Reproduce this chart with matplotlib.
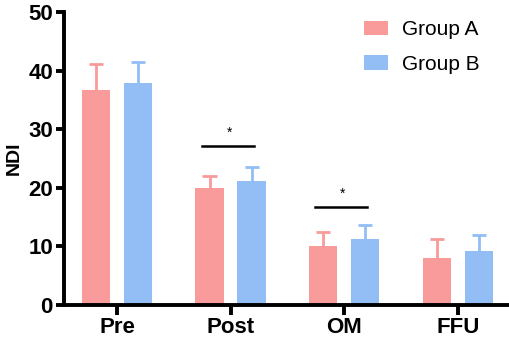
import matplotlib
matplotlib.use("Agg")
import matplotlib.pyplot as plt
import numpy as np

categories = ["Pre", "Post", "OM", "FFU"]
group_a = [36.7, 19.9, 10.1, 8.0]
group_a_err = [4.5, 2.1, 2.4, 3.3]
group_b = [37.8, 21.2, 11.3, 9.3]
group_b_err = [3.6, 2.4, 2.4, 2.7]
sig_pairs = [(1, 27.2), (2, 16.8)]

col_a = "#FA9B9B"
col_b = "#92BDF5"

plt.rcParams['font.family'] = ['Liberation Sans', 'DejaVu Sans']

fig = plt.figure(figsize=(5.1, 3.39), dpi=100)
ax = fig.add_axes([0.1255, 0.1003, 0.8745, 0.8643])

x = np.arange(len(categories))
w = 0.25
off = 0.185
cap = 0.062

for xs, vals, errs, col, lab in [(x - off, group_a, group_a_err, col_a, "Group A"),
                                 (x + off, group_b, group_b_err, col_b, "Group B")]:
    vals = np.array(vals)
    errs = np.array(errs)
    ax.vlines(xs, vals, vals + errs, colors=col, lw=2, zorder=1)
    ax.hlines(vals + errs, xs - cap, xs + cap, colors=col, lw=2, zorder=1)
    ax.bar(xs, vals, w, color=col, label=lab, linewidth=0, zorder=2)

for i, yv in sig_pairs:
    ax.plot([i - off - 0.07, i + off + 0.02], [yv, yv], color='black', lw=1.8)
    ax.text(i - 0.01, yv + 1.0, "*", ha='center', va='bottom', fontsize=10)

ax.set_xlim(-0.466, 3.46)
ax.set_ylim(0, 50)
ax.set_yticks([0, 10, 20, 30, 40, 50])
ax.set_xticks(x)
ax.set_xticklabels(categories)
for lbl in ax.get_xticklabels():
    lbl.set_fontweight('bold')
    lbl.set_fontsize(16)
for lbl in ax.get_yticklabels():
    lbl.set_fontweight('bold')
    lbl.set_fontsize(16)
ax.set_ylabel("NDI", fontsize=14, fontweight='bold', labelpad=4)

for s in ['top', 'right']:
    ax.spines[s].set_visible(False)
for s in ['left', 'bottom']:
    ax.spines[s].set_linewidth(2.8)
ax.tick_params(axis='y', width=2.8, length=6, pad=2)
ax.tick_params(axis='x', width=2.8, length=7, pad=1.5)

ax.legend(loc='upper left', bbox_to_anchor=(0.655, 1.0), frameon=False,
          fontsize=15, handlelength=1.15, handleheight=0.7, handletextpad=0.65,
          labelspacing=0.75, borderaxespad=0)

fig.savefig("out.png", dpi=100)
